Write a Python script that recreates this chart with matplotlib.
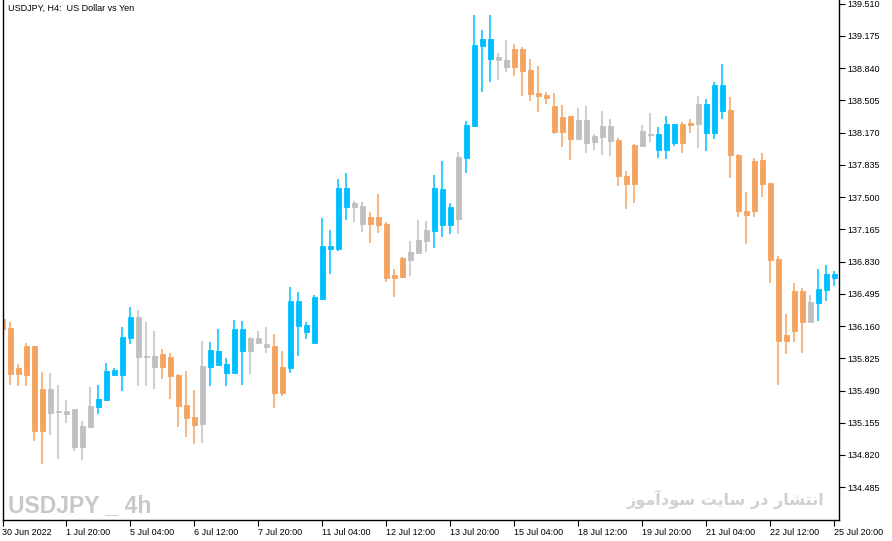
import matplotlib
matplotlib.use("Agg")
import matplotlib.pyplot as plt

# USDJPY H4 candles (30 Jun 2022 -> 25 Jul 2022 20:00)
opens = [136.234, 136.140, 135.724, 135.953, 135.953, 135.506, 135.506, 135.277, 135.277, 135.298,
         135.121, 135.329, 135.319, 135.392, 135.651, 135.651, 136.036, 136.254, 135.849, 135.849,
         135.870, 135.839, 135.651, 135.340, 135.215, 135.745, 135.735, 135.755, 135.672, 135.672,
         135.901, 136.036, 136.036, 135.974, 135.953, 135.735, 135.724, 136.161, 136.102, 135.987,
         136.445, 136.964, 136.964, 137.401, 137.439, 137.408, 137.294, 137.294, 137.221, 136.691,
         136.867, 136.930, 137.054, 137.158, 137.151, 137.214, 137.214, 137.917, 137.910, 138.240,
         139.075, 138.940, 138.957, 138.926, 139.041, 139.041, 138.822, 138.583, 138.562, 138.448,
         138.333, 138.344, 138.302, 138.302, 138.136, 138.240, 138.240, 138.095, 137.724, 138.043,
         138.188, 138.157, 137.994, 137.994, 138.067, 138.261, 138.271, 138.469, 138.171, 138.171,
         138.399, 138.406, 137.938, 137.360, 137.876, 137.890, 137.647, 136.857, 136.067, 136.528,
         136.528, 136.410, 136.403, 136.539, 136.663]
highs = [136.250, 136.202, 135.766, 135.984, 135.953, 135.683, 135.672, 135.548, 135.392, 135.298,
         135.173, 135.527, 135.548, 135.776, 135.724, 136.150, 136.358, 136.327, 136.202, 136.109,
         135.922, 135.880, 135.662, 135.693, 135.496, 136.005, 135.995, 136.130, 135.828, 136.223,
         136.213, 136.046, 136.109, 136.150, 136.078, 135.901, 136.566, 136.514, 136.202, 136.483,
         137.283, 137.158, 137.689, 137.751, 137.460, 137.449, 137.349, 137.533, 137.242, 136.753,
         136.878, 137.044, 137.262, 137.252, 137.730, 137.876, 137.439, 137.969, 138.292, 139.394,
         139.238, 139.394, 138.999, 139.134, 139.092, 139.061, 138.936, 138.864, 138.593, 138.583,
         138.458, 138.344, 138.427, 138.448, 138.157, 138.396, 138.313, 138.115, 137.772, 138.053,
         138.251, 138.375, 138.230, 138.344, 138.261, 138.282, 138.313, 138.552, 138.521, 138.697,
         138.884, 138.541, 137.949, 137.554, 137.907, 137.959, 137.647, 136.889, 136.286, 136.611,
         136.559, 136.483, 136.757, 136.798, 136.736]
lows = [136.120, 135.548, 135.537, 135.537, 134.965, 134.726, 135.028, 134.778, 135.153, 134.861,
        134.768, 135.101, 135.246, 135.381, 135.651, 135.485, 135.974, 135.537, 135.537, 135.506,
        135.610, 135.402, 135.111, 135.007, 134.934, 134.945, 135.537, 135.745, 135.537, 135.662,
        135.548, 135.662, 135.974, 135.880, 135.308, 135.433, 135.672, 135.849, 136.029, 135.987,
        136.434, 136.704, 136.944, 137.266, 137.245, 137.141, 137.027, 137.131, 136.621, 136.465,
        136.663, 136.684, 136.923, 136.933, 136.975, 137.089, 137.120, 137.120, 137.755, 138.233,
        138.597, 138.701, 138.721, 138.805, 138.763, 138.555, 138.503, 138.389, 138.472, 138.160,
        138.024, 137.890, 138.108, 137.963, 137.994, 137.942, 137.932, 137.620, 137.381, 137.443,
        138.025, 138.077, 137.911, 137.901, 138.035, 137.963, 138.171, 138.015, 137.984, 138.108,
        138.316, 137.703, 137.297, 137.017, 137.297, 137.505, 136.611, 135.551, 135.873, 135.998,
        135.884, 136.206, 136.216, 136.424, 136.580]
closes = [136.130, 135.662, 135.662, 135.651, 135.069, 135.069, 135.256, 135.267, 135.246, 134.903,
          134.903, 135.111, 135.402, 135.693, 135.703, 136.046, 136.254, 135.839, 135.839, 135.735,
          135.735, 135.641, 135.329, 135.205, 135.132, 135.142, 135.911, 135.901, 135.766, 136.130,
          136.130, 135.901, 135.984, 135.943, 135.464, 135.464, 136.421, 136.421, 136.171, 136.462,
          136.992, 136.992, 137.595, 137.595, 137.401, 137.224, 137.224, 137.214, 136.663, 136.663,
          136.673, 136.850, 136.923, 137.048, 137.595, 137.585, 137.397, 137.276, 138.250, 139.082,
          139.145, 139.145, 138.930, 138.857, 138.857, 138.815, 138.576, 138.555, 138.535, 138.181,
          138.181, 138.108, 138.108, 138.066, 138.077, 138.129, 138.088, 137.724, 137.641, 137.641,
          138.036, 138.150, 138.157, 138.261, 138.261, 138.067, 138.251, 138.264, 138.469, 138.666,
          138.666, 137.942, 137.360, 137.318, 137.360, 137.640, 136.850, 136.008, 136.008, 136.112,
          136.206, 136.206, 136.546, 136.701, 136.701]
# indicator state of each candle: d = down, u = up, f = flat
state = list("dddddd" "ffffff" "uuuuu" "fff" "ddddd" "f" "uuuuu" "fff" "dd"
             "uuuuuuuu" "ff" "ddddd" "fff" "uuu" "f" "uuuu" "ff" "dddddddd" "fffff"
             "ddd" "ff" "uuu" "dd" "f" "uuu" "dddddddddd" "f" "uuu")

price_ticks = [139.510, 139.175, 138.840, 138.505, 138.170, 137.835, 137.500, 137.165,
               136.830, 136.495, 136.160, 135.825, 135.490, 135.155, 134.820, 134.485]
time_labels = ["30 Jun 2022", "1 Jul 20:00", "5 Jul 04:00", "6 Jul 12:00", "7 Jul 20:00",
               "11 Jul 04:00", "12 Jul 12:00", "13 Jul 20:00", "15 Jul 04:00", "18 Jul 12:00",
               "19 Jul 20:00", "21 Jul 04:00", "22 Jul 12:00", "25 Jul 20:00"]

colors = {"d": "#F4A460", "u": "#00BFFF", "f": "#C0C0C0"}

# minimal Persian shaping (isolated, final, initial, medial) for the watermark
forms = {
    "ا": ("\uFE8D", "\uFE8E", None, None),
    "آ": ("\uFE81", "\uFE82", None, None),
    "ن": ("\uFEE5", "\uFEE6", "\uFEE7", "\uFEE8"),
    "ت": ("\uFE95", "\uFE96", "\uFE97", "\uFE98"),
    "ش": ("\uFEB5", "\uFEB6", "\uFEB7", "\uFEB8"),
    "ر": ("\uFEAD", "\uFEAE", None, None),
    "د": ("\uFEA9", "\uFEAA", None, None),
    "س": ("\uFEB1", "\uFEB2", "\uFEB3", "\uFEB4"),
    "ی": ("\uFBFC", "\uFBFD", "\uFBFE", "\uFBFF"),
    "و": ("\uFEED", "\uFEEE", None, None),
    "م": ("\uFEE1", "\uFEE2", "\uFEE3", "\uFEE4"),
    "ز": ("\uFEAF", "\uFEB0", None, None),
}


def shape_rtl(s):
    out = []
    for k, ch in enumerate(s):
        if ch not in forms:
            out.append(ch)
            continue
        prev = s[k - 1] if k > 0 else None
        nxt = s[k + 1] if k + 1 < len(s) else None
        iso, fin, ini, med = forms[ch]
        jp = prev in forms and forms[prev][2] is not None
        jn = nxt in forms and ini is not None
        if jp and jn:
            out.append(med)
        elif jp:
            out.append(fin)
        elif jn:
            out.append(ini)
        else:
            out.append(iso)
    return "".join(out)[::-1]


W, H = 892, 541
fig = plt.figure(figsize=(W / 100, H / 100), dpi=100)
ax = fig.add_axes([2.5 / W, 21 / H, (839 - 2.5) / W, 520 / H])

x = list(range(len(opens)))
cols = [colors[s] for s in state]
ax.vlines(x, lows, highs, colors=cols, linewidth=1.1)
bottoms = [min(o, c) for o, c in zip(opens, closes)]
heights = [abs(o - c) for o, c in zip(opens, closes)]
ax.bar(x, heights, bottom=bottoms, width=0.62, color=cols, edgecolor=cols, linewidth=0.6)

ax.set_xlim(0, 104.6)
ax.set_ylim(134.144, 139.549)

ax.spines["top"].set_visible(False)
for s in ["left", "bottom", "right"]:
    ax.spines[s].set_linewidth(1.0)
    ax.spines[s].set_color("black")

ax.yaxis.tick_right()
ax.set_yticks(price_ticks)
ax.set_yticklabels([f"{p:.3f}" for p in price_ticks], family="Liberation Sans", fontsize=6.5)
ax.tick_params(axis="y", direction="out", length=4, width=0.8, pad=2)

ax.set_xticks([8 * i for i in range(len(time_labels))])
ax.set_xticklabels(time_labels, family="Liberation Sans", fontsize=6.5, ha="left")
ax.tick_params(axis="x", direction="out", length=4, width=0.8, pad=2)

ax.text(5 / 836.5, 1 - 4 / 520, "USDJPY, H4:  US Dollar vs Yen", transform=ax.transAxes,
        ha="left", va="top", family="Liberation Sans", fontsize=6.5)

fig.text(8 / W, (H - 512) / H, "USDJPY _ 4h", ha="left", va="baseline",
         family=["Liberation Sans"], fontweight="bold",
         fontsize=16.5, color="#C8C8C8")
fig.text(824 / W, (H - 505) / H, shape_rtl("انتشار در سایت سودآموز"), ha="right", va="baseline",
         family=["DejaVu Sans"], fontweight="bold", fontsize=11.5, color="#D0D0D0")

fig.savefig("out.png", dpi=100)
